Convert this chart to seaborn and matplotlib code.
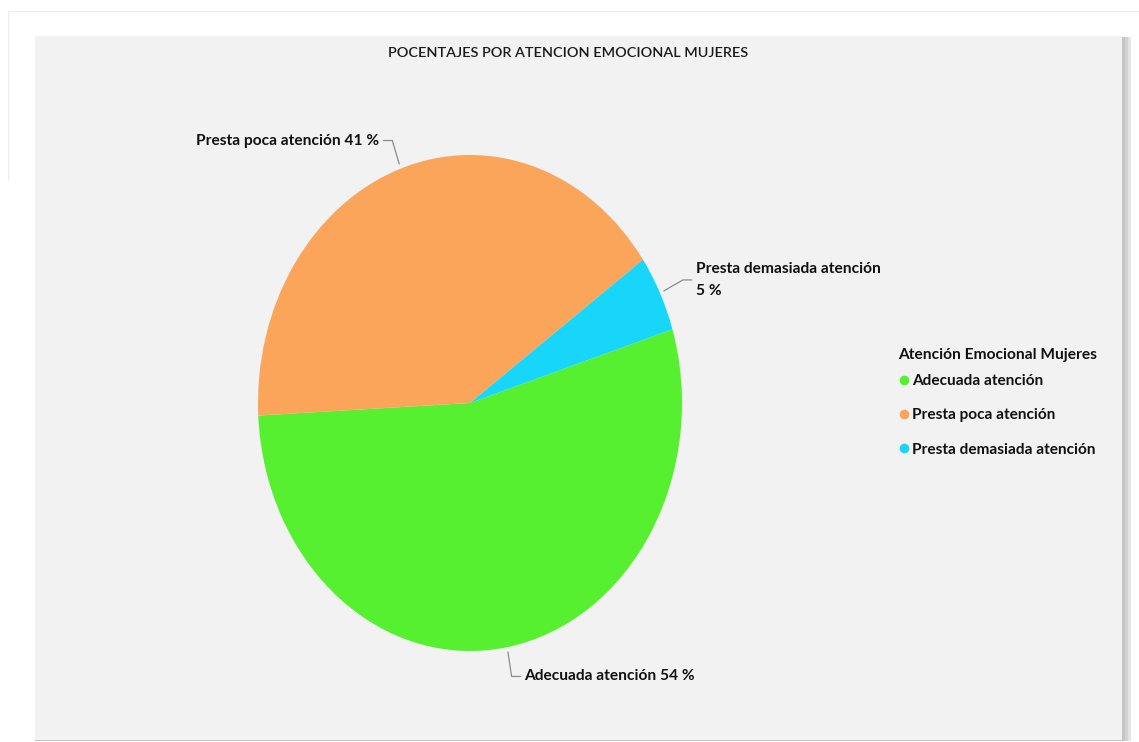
import numpy as np
import matplotlib
matplotlib.use("Agg")
import matplotlib.pyplot as plt
from matplotlib.patches import Rectangle
from matplotlib.lines import Line2D
import seaborn as sns

# ---- data ----
categories = ["Adecuada atención", "Presta poca atención", "Presta demasiada atención"]
values = [54, 41, 5]
label_seps = [" ", " ", "\n"]
colors_hex = ["#56f031", "#fba55a", "#17d6fa"]
title = "POCENTAJES POR ATENCION EMOCIONAL MUJERES"
legend_title = "Atención Emocional Mujeres"

sns.set_theme(style="white")
plt.rcParams["font.family"] = ["Lato", "DejaVu Sans"]
palette = sns.color_palette(colors_hex)

W, H = 1139, 742
fig = plt.figure(figsize=(W / 100, H / 100), dpi=100)
fig.patch.set_facecolor("white")

def fx(px):
    return px / W

def fy(py):
    return 1 - py / H

# faint outer frame lines (top-left)
fig.add_artist(Line2D([fx(8), fx(1139)], [fy(11), fy(11)], color="#ececec", lw=0.8, zorder=-5))
fig.add_artist(Line2D([fx(8), fx(8)], [fy(11), fy(180)], color="#ececec", lw=0.8, zorder=-5))

# shadow + panel
for off, col in [(9, "#e4e4e4"), (6, "#d2d2d2"), (3, "#c4c4c4")]:
    fig.patches.append(Rectangle((fx(35), fy(741)), fx(1122 - 35 + off), (741 - 37) / H,
                                 transform=fig.transFigure, facecolor=col, edgecolor="none", zorder=-4))
fig.patches.append(Rectangle((fx(35), fy(740)), fx(1122 - 35), (740 - 36) / H,
                             transform=fig.transFigure, facecolor="#f2f2f2", edgecolor="none", zorder=-3))

fig.text(fx(568), fy(53), title, ha="center", va="center", fontsize=10.4,
         fontweight="semibold", color="#1a1a1a")

# pie axes (elliptical pie)
ax = fig.add_axes([fx(258), fy(651), fx(682 - 258), (651 - 155) / H])
ax.set_zorder(2)
wedges, _ = ax.pie(values, colors=palette, startangle=17.3, counterclock=False,
                   radius=1, wedgeprops=dict(linewidth=0))
ax.set_xlim(-1, 1)
ax.set_ylim(-1, 1)
ax.set_aspect("auto")
ax.patch.set_visible(False)
ax.axis("off")

for w, cat, val, sep in zip(wedges, categories, values, label_seps):
    th = np.deg2rad((w.theta1 + w.theta2) / 2)
    c, s = np.cos(th), np.sin(th)
    side = 1 if c > 0 else -1
    p0 = (1.02 * c, 1.02 * s)
    p1 = (1.12 * c, 1.12 * s)
    p2 = (p1[0] + side * 0.042, p1[1])
    ax.plot([p0[0], p1[0], p2[0]], [p0[1], p1[1], p2[1]], color="#8c8c8c", lw=0.9,
            clip_on=False, solid_joinstyle="miter")
    ax.text(p2[0] + side * 0.018, p2[1], f"{cat}{sep}{val} %",
            ha="left" if side > 0 else "right", va="center", fontsize=11.2,
            fontweight="bold", color="#111111", linespacing=1.65, clip_on=False)

fig.text(fx(898), fy(355), legend_title, ha="left", va="center", fontsize=11.2,
         fontweight="bold", color="#111111", zorder=3)
handles = [Line2D([0], [0], marker="o", linestyle="none", markersize=7,
                  markerfacecolor=col, markeredgecolor="none") for col in palette]
leg = fig.legend(handles, categories, loc="upper left",
                 bbox_to_anchor=(fx(896), fy(371)), frameon=False,
                 prop=dict(weight="bold", size=11.1),
                 handlelength=0.6, handletextpad=0.25, labelspacing=1.32, alignment="left",
                 borderpad=0.2, borderaxespad=0)
for t in leg.get_texts():
    t.set_color("#111111")

fig.savefig("out.png", dpi=100, facecolor="white")
